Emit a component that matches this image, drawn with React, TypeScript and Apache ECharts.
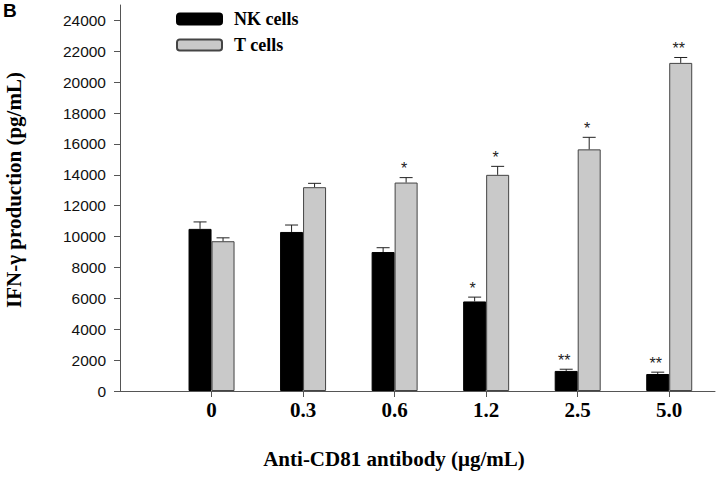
import React, { useEffect, useRef } from "react";
import * as echarts from "echarts";

const categories = ["0", "0.3", "0.6", "1.2", "2.5", "5.0"];
const nkValues = [10500, 10300, 9000, 5800, 1300, 1100];
const nkErrors = [450, 450, 280, 280, 110, 120];
const tValues = [9700, 13200, 13500, 14000, 15650, 21250];
const tErrors = [220, 250, 320, 550, 780, 350];
const nkSig = ["", "", "", "*", "**", "**"];
const tSig = ["", "", "*", "*", "*", "**"];
const yTicks = [0, 2000, 4000, 6000, 8000, 10000, 12000, 14000, 16000, 18000, 20000, 22000, 24000];

const BAR_W = 23;
const SERIF = "'Liberation Serif', 'Times New Roman', serif";
const SANS = "'Liberation Sans', Arial, sans-serif";

function errorSeries(name: string, values: number[], errs: number[], sig: string[], offset: number) {
  return {
    type: "custom",
    name: name + " err",
    silent: true,
    z: 5,
    data: values.map((v, i) => [i + 1, v, errs[i]]),
    encode: { x: 0, y: 1 },
    renderItem: (params: any, api: any) => {
      const x = api.value(0);
      const v = api.value(1);
      const e = api.value(2);
      const s = sig[params.dataIndex] || "";
      const p0 = api.coord([x, v]);
      const p1 = api.coord([x, v + e]);
      const cx = p0[0] + offset;
      const children: any[] = [
        { type: "line", shape: { x1: cx, y1: p0[1], x2: cx, y2: p1[1] }, style: { stroke: "#222", lineWidth: 1 } },
        { type: "line", shape: { x1: cx - 6.5, y1: p1[1], x2: cx + 6.5, y2: p1[1] }, style: { stroke: "#222", lineWidth: 1 } },
      ];
      if (s) {
        children.push({
          type: "text",
          style: {
            text: s,
            x: cx - 2,
            y: p1[1] - 1,
            align: "center",
            verticalAlign: "bottom",
            font: `16px ${SANS}`,
            fill: "#222",
          },
        });
      }
      return { type: "group", children };
    },
  };
}

export default function App() {
  const ref = useRef<HTMLDivElement>(null);
  useEffect(() => {
    if (!ref.current) return;
    const chart = echarts.init(ref.current, null, { renderer: "svg" });
    chart.setOption({
      animation: false,
      backgroundColor: "#fff",
      grid: { left: 120, right: 5, top: 5, bottom: 102, containLabel: false },
      legend: {
        orient: "vertical",
        left: 176,
        top: 10,
        padding: 0,
        itemWidth: 45,
        itemHeight: 11,
        itemGap: 8,
        data: ["NK cells", "T cells"],
        textStyle: {
          fontFamily: SERIF,
          fontWeight: "bold",
          fontSize: 18,
          lineHeight: 16,
          color: "#000",
          padding: [0, 0, 0, 7],
        },
      },
      xAxis: {
        type: "value",
        min: 0,
        max: 6.5,
        splitLine: { show: false },
        axisLine: { show: true, lineStyle: { color: "#555", width: 1 } },
        axisTick: {
          show: true,
          length: 6,
          lineStyle: { color: "#555" },
          customValues: categories.map((_, i) => i + 1),
        },
        axisLabel: {
          customValues: categories.map((_, i) => i + 1),
          formatter: (v: number) => categories[Math.round(v) - 1] ?? "",
          fontFamily: SERIF,
          fontWeight: "bold",
          fontSize: 21,
          color: "#000",
          margin: 8,
        },
      },
      yAxis: {
        type: "value",
        min: 0,
        max: 25000,
        splitLine: { show: false },
        axisLine: { show: true, lineStyle: { color: "#555", width: 1 } },
        axisTick: { show: true, length: 6, lineStyle: { color: "#555" }, customValues: yTicks },
        axisLabel: {
          customValues: yTicks,
          formatter: (v: number) => String(v),
          fontFamily: SANS,
          fontSize: 15.5,
          color: "#111",
          margin: 14,
        },
      },
      graphic: [
        {
          type: "text",
          left: 3,
          top: 1,
          style: { text: "B", font: `bold 19px ${SANS}`, fill: "#000" },
        },
        {
          type: "text",
          x: 14,
          y: 190,
          rotation: Math.PI / 2,
          style: {
            text: "IFN-γ production (pg/mL)",
            font: `bold 21px ${SERIF}`,
            fill: "#000",
            align: "center",
            verticalAlign: "middle",
          },
        },
        {
          type: "text",
          x: 394,
          y: 459,
          style: {
            text: "Anti-CD81 antibody (μg/mL)",
            font: `bold 21px ${SERIF}`,
            fill: "#000",
            align: "center",
            verticalAlign: "middle",
          },
        },
      ],
      series: [
        {
          type: "bar",
          name: "NK cells",
          data: nkValues.map((v, i) => [i + 1, v]),
          barWidth: BAR_W,
          barGap: "0%",
          itemStyle: { color: "#000", borderColor: "#000", borderWidth: 1 },
        },
        {
          type: "bar",
          name: "T cells",
          data: tValues.map((v, i) => [i + 1, v]),
          barWidth: BAR_W,
          barGap: "0%",
          itemStyle: { color: "#c9c9c9", borderColor: "#444", borderWidth: 1 },
        },
        errorSeries("NK cells", nkValues, nkErrors, nkSig, -BAR_W / 2),
        errorSeries("T cells", tValues, tErrors, tSig, BAR_W / 2),
      ],
    });
    return () => chart.dispose();
  }, []);
  return <div ref={ref} style={{ width: 720, height: 493, position: "absolute", left: 0, top: 0 }} />;
}
